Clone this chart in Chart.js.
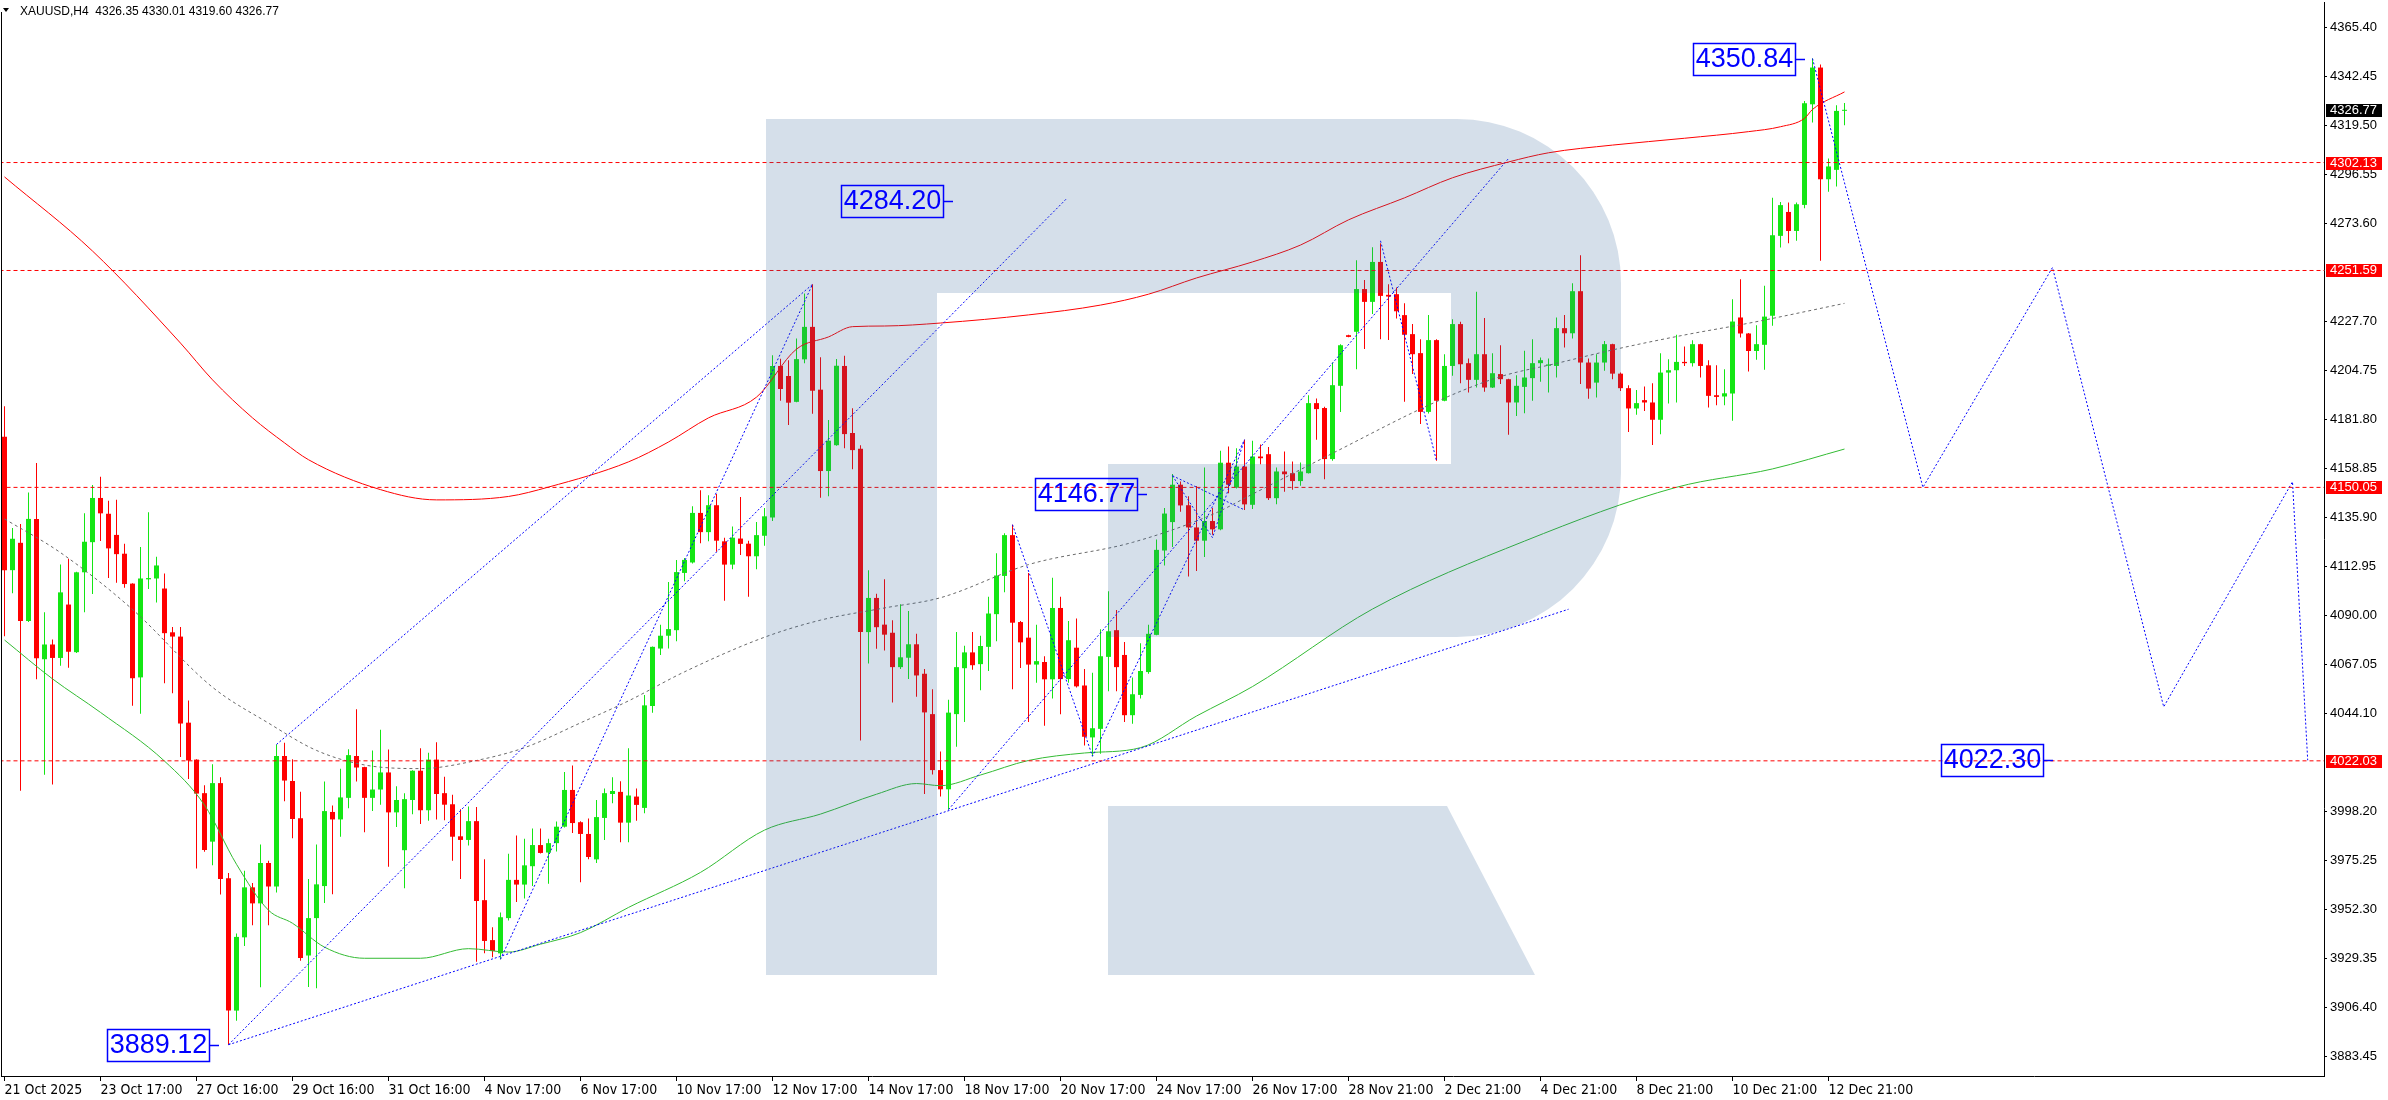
<!DOCTYPE html>
<html><head><meta charset="utf-8">
<script src="https://cdn.jsdelivr.net/npm/chart.js@4.4.1/dist/chart.umd.min.js"></script>
<style>html,body{margin:0;padding:0;background:#fff;overflow:hidden}canvas{display:block}</style>
</head><body>
<canvas id="c" width="2388" height="1100"></canvas>
<script>
// ---------- DATA ----------
const openArr = [4173.7,4111.3,4124.1,4087.5,4135.3,4069.6,4076.5,4070.2,4095.2,4072.9,
4110.3,4124.4,4145.1,4137.7,4127.8,4119.0,4105.0,4061.1,4107.0,4107.4,
4102.7,4082.2,4080.2,4039.9,4022.6,4006.9,3984.2,4011.6,3967.1,3905.1,
3939.4,3962.8,3955.3,3974.2,3963.2,4024.3,4012.6,3995.2,3930.9,3948.4,
3963.4,3998.1,3994.6,4004.7,4024.3,4019.1,4004.7,4008.6,4016.6,3997.9,
3980.2,4003.7,4017.4,3998.9,4022.6,4006.9,4001.7,3986.7,3985.0,3993.8,
3956.8,3938.1,3931.9,3948.4,3966.3,3964.1,3972.7,3982.6,3979.1,3983.5,
3991.2,4008.4,3993.3,3987.8,3975.9,3995.3,4006.5,4007.5,3993.1,4005.3,
4000.0,4047.7,4074.6,4080.6,4083.2,4110.0,4114.9,4138.1,4129.1,4141.7,
4124.8,4113.9,4126.1,4123.7,4117.8,4127.4,4136.0,4206.9,4202.2,4190.1,
4210.0,4225.2,4195.8,4157.7,4169.8,4206.9,4175.5,4168.1,4082.3,4098.3,
4085.8,4082.0,4065.9,4070.3,4076.6,4062.8,4043.9,4017.7,4008.7,4043.9,
4065.4,4072.8,4067.3,4075.4,4090.7,4108.6,4127.7,4087.0,4079.7,4067.1,
4068.3,4060.2,4093.6,4060.3,4075.0,4057.3,4033.0,4037.0,4070.7,4083.2,
4071.6,4043.4,4052.9,4063.6,4081.0,4120.5,4133.8,4151.3,4141.7,4131.3,
4125.1,4134.3,4130.4,4161.6,4149.9,4159.8,4141.9,4164.5,4165.6,4145.0,
4157.5,4156.7,4153.0,4156.7,4189.5,4187.2,4163.3,4197.6,4221.3,4222.9,
4242.9,4236.9,4255.6,4240.2,4240.5,4230.7,4221.8,4212.9,4185.4,4219.0,
4190.6,4206.9,4226.5,4208.2,4200.4,4212.4,4196.8,4203.1,4200.7,4189.8,
4197.1,4201.2,4208.2,4207.0,4206.9,4224.6,4222.2,4241.9,4208.5,4199.1,
4208.5,4217.1,4203.3,4196.5,4187.0,4190.9,4189.8,4181.7,4203.8,4204.9,
4208.8,4208.2,4217.1,4207.2,4193.2,4192.6,4194.0,4229.6,4222.1,4213.9,
4216.8,4230.4,4267.8,4279.0,4270.1,4282.3,4329.4,4346.6,4294.3,4298.7,
4326.35];
const highArr = [4188.0,4131.0,4132.9,4147.7,4161.5,4091.6,4078.8,4113.9,4116.6,4110.5,
4137.9,4151.2,4155.0,4143.8,4144.3,4123.7,4105.2,4122.1,4138.4,4117.6,
4109.7,4084.7,4084.7,4050.3,4022.8,4010.6,4020.4,4014.3,3969.5,3941.2,
3970.6,3964.8,3982.9,3975.2,4029.7,4030.5,4022.8,4007.6,3966.7,3982.9,
4012.3,4001.1,4018.3,4027.5,4046.2,4019.3,4026.9,4036.6,4027.3,4010.1,
4006.9,4017.6,4027.9,4025.8,4030.7,4014.6,4006.1,3999.4,4000.6,4000.4,
3975.9,3944.1,3951.0,3978.5,3987.1,3985.6,3990.3,3990.3,3985.6,3993.6,
4016.8,4019.8,3993.8,3995.0,4003.7,4009.1,4014.4,4012.5,4027.9,4009.1,
4052.9,4075.6,4085.8,4105.7,4116.1,4117.0,4141.2,4148.7,4146.4,4146.9,
4126.5,4131.7,4145.5,4125.1,4133.8,4140.4,4211.9,4210.3,4209.6,4219.7,
4240.8,4245.1,4211.0,4181.6,4210.1,4211.7,4187.1,4169.8,4111.3,4100.2,
4107.1,4087.9,4095.3,4092.2,4081.5,4065.0,4055.5,4026.4,4050.6,4082.3,
4075.9,4082.3,4080.6,4098.8,4119.2,4128.6,4132.6,4087.5,4110.0,4085.8,
4071.0,4107.8,4098.8,4087.5,4088.7,4065.0,4063.3,4083.6,4101.4,4092.7,
4077.7,4061.0,4077.1,4085.8,4125.6,4140.4,4156.3,4152.8,4145.9,4150.7,
4159.4,4140.4,4167.2,4169.2,4168.4,4172.4,4171.9,4170.1,4168.9,4159.4,
4166.9,4162.2,4161.7,4193.2,4191.7,4187.8,4208.5,4217.1,4221.5,4256.4,
4247.1,4262.5,4264.4,4245.2,4243.6,4236.3,4226.5,4219.4,4230.7,4219.4,
4212.4,4228.8,4227.6,4210.4,4241.6,4229.3,4212.9,4216.6,4200.9,4202.6,
4214.0,4219.4,4210.9,4210.4,4229.6,4230.7,4245.6,4258.7,4210.4,4212.4,
4218.6,4217.3,4203.8,4197.9,4195.7,4197.3,4198.8,4212.9,4210.0,4221.5,
4216.0,4218.9,4217.3,4209.6,4207.2,4205.4,4238.1,4247.5,4222.3,4226.0,
4244.4,4285.7,4283.7,4283.4,4283.4,4331.0,4350.84,4348.0,4304.0,4329.0,
4330.01];
const lowArr = [4080.4,4100.5,4008.0,4087.0,4060.2,4015.5,4011.0,4066.6,4065.6,4072.5,
4091.6,4100.1,4124.9,4107.6,4105.4,4103.1,4047.8,4044.1,4102.5,4096.2,
4058.4,4053.7,4023.8,4013.5,3971.6,3979.5,3973.2,3959.4,3889.12,3900.4,
3935.3,3945.1,3916.0,3945.1,3960.4,4003.1,3985.8,3928.4,3916.2,3915.6,
3955.5,3959.6,3986.5,3999.8,4012.3,3988.6,3998.5,4001.5,3972.5,3991.0,
3962.4,3997.0,3992.5,3994.0,3994.6,3994.2,3975.3,3966.7,3982.4,3928.0,
3931.9,3930.1,3929.1,3947.3,3955.9,3957.6,3963.4,3978.7,3964.5,3979.6,
3990.8,3988.2,3965.2,3975.9,3974.2,3985.0,4002.2,3983.9,3983.9,3994.0,
3997.5,4044.6,4071.6,4074.6,4078.0,4106.1,4114.4,4123.9,4124.8,4119.9,
4097.0,4111.7,4118.4,4098.8,4111.7,4122.7,4134.3,4190.6,4179.3,4189.9,
4208.2,4184.5,4145.2,4145.9,4169.6,4168.4,4158.5,4031.6,4067.6,4074.5,
4073.7,4049.4,4065.0,4060.3,4052.0,4006.5,4015.6,4005.3,3999.2,4028.6,
4040.2,4064.7,4055.1,4064.1,4078.0,4100.9,4055.5,4065.5,4040.2,4058.6,
4038.5,4051.2,4043.8,4058.6,4056.4,4029.2,4024.2,4025.3,4054.6,4054.6,
4040.2,4039.4,4051.2,4062.8,4080.8,4113.5,4122.2,4138.6,4108.3,4110.9,
4117.5,4127.9,4130.0,4147.3,4149.5,4139.5,4139.9,4160.9,4144.1,4142.2,
4148.0,4148.9,4150.8,4156.5,4172.3,4153.9,4162.5,4185.4,4220.3,4205.4,
4214.8,4231.2,4219.4,4219.1,4229.1,4190.1,4203.1,4179.7,4184.6,4162.5,
4190.4,4202.3,4198.8,4194.5,4196.8,4194.8,4196.6,4198.4,4174.7,4183.5,
4184.8,4190.6,4199.5,4194.5,4201.5,4215.5,4219.7,4198.4,4191.6,4192.1,
4204.6,4200.7,4195.2,4176.0,4184.0,4185.8,4169.9,4174.9,4189.3,4189.8,
4206.9,4206.6,4201.5,4187.4,4188.5,4188.5,4181.2,4220.2,4204.3,4209.8,
4205.1,4225.7,4262.3,4264.4,4265.5,4280.7,4320.9,4256.1,4288.4,4290.9,
4319.60];
const closeArr = [4111.3,4126.0,4087.5,4135.3,4070.0,4076.5,4070.2,4100.9,4073.1,4110.3,
4124.6,4145.1,4137.9,4121.5,4118.8,4104.8,4060.7,4107.4,4107.6,4113.5,
4081.8,4080.2,4039.5,4022.2,4006.7,3980.3,4011.6,3966.7,3905.1,3939.6,
3962.8,3955.3,3974.2,3963.2,4024.3,4012.8,3994.8,3929.7,3948.4,3964.2,
3998.5,3994.6,4004.9,4024.7,4018.9,4004.7,4008.6,4016.6,3997.9,4003.7,
4004.1,4017.4,3998.9,4022.6,4006.5,4001.5,3986.5,3985.0,3993.8,3956.4,
3937.7,3933.0,3948.8,3966.3,3964.1,3973.1,3982.6,3978.9,3983.5,3991.2,
4008.4,3992.9,3987.8,3977.0,3995.7,4006.9,4007.9,3993.1,4005.8,4001.4,
4048.0,4075.4,4080.6,4083.7,4110.4,4116.1,4138.1,4129.1,4141.7,4125.1,
4113.9,4126.5,4123.6,4117.8,4127.7,4136.5,4206.9,4196.1,4189.7,4210.1,
4225.2,4195.3,4157.7,4171.9,4207.0,4175.0,4167.5,4082.3,4098.3,4084.6,
4081.1,4065.9,4070.5,4076.6,4062.0,4044.7,4017.7,4008.7,4044.6,4065.9,
4072.8,4066.8,4075.8,4091.0,4108.8,4127.7,4086.7,4077.5,4067.1,4068.7,
4060.2,4093.6,4060.3,4078.5,4056.9,4033.3,4037.3,4071.0,4082.7,4065.9,
4043.4,4053.2,4064.1,4081.5,4120.8,4137.8,4151.3,4141.6,4131.3,4125.1,
4134.3,4130.4,4161.6,4151.3,4159.8,4142.1,4164.5,4163.7,4145.0,4157.5,
4156.2,4153.0,4157.5,4189.5,4186.7,4163.3,4197.9,4216.6,4220.5,4242.9,
4236.9,4255.6,4239.7,4239.4,4232.5,4221.5,4212.4,4185.4,4219.0,4190.6,
4206.9,4226.5,4207.7,4200.4,4212.4,4196.8,4203.5,4200.7,4189.8,4197.6,
4201.5,4208.2,4209.6,4207.6,4224.6,4222.2,4241.9,4208.5,4196.3,4208.5,
4217.1,4203.3,4196.5,4187.0,4189.5,4189.8,4181.7,4203.8,4204.9,4208.8,
4208.2,4217.1,4206.9,4192.9,4192.4,4194.1,4227.7,4222.1,4213.9,4217.1,
4230.0,4268.1,4282.2,4270.1,4282.6,4329.9,4346.6,4294.3,4300.3,4326.3,
4326.77];

// moving averages: bar index / value pairs
const slowMaIdx = [0,11,22,26,31,35,38,47,54,63,68,78,83,88,94,99,103,106,110,117,128,137,143,149,156,162,168,175,181,188,193,201,210,218,222,225,226,230];
const slowMaVal = [4295.4,4260.7,4217.6,4200.4,4182.6,4170.9,4163.0,4149.0,4144.2,4145.8,4150.2,4162.0,4171.3,4182.6,4192.3,4214.8,4220.5,4225.3,4225.6,4227.0,4230.8,4235.4,4240.5,4248.1,4255.6,4263.5,4275.3,4285.6,4295.0,4302.4,4306.7,4310.3,4313.5,4316.6,4318.9,4322.8,4327.0,4335.2];
const greenMaIdx = [0,6,12,20,25,29,33,36,40,45,52,58,63,67,72,78,87,95,102,109,114,117,122,128,135,142,149,156,171,190,209,221,230];
const greenMaVal = [4078.6,4060.4,4044.7,4021.9,4001.3,3973.6,3952.1,3946.0,3934.8,3929.6,3929.6,3934.1,3932.5,3936.2,3941.6,3953.4,3969.8,3989.6,3997.1,4006.4,4011.4,4010.4,4015.4,4022.2,4025.7,4028.2,4043.0,4056.8,4093.1,4124.9,4150.1,4158.7,4168.0];
const grayMaIdx = [0,7,16,26,33,39,45,52,59,65,72,78,85,95,102,110,117,128,141,151,156,166,179,187,194,201,210,218,230];
const grayMaVal = [4135.3,4119.5,4092.9,4056.5,4039.7,4026.9,4020.1,4018.4,4022.2,4028.2,4039.8,4050.1,4063.7,4079.9,4087.9,4093.6,4098.4,4113.9,4124.3,4137.4,4146.9,4166.0,4190.2,4201.9,4208.1,4214.4,4221.4,4226.9,4236.2];

// drawn analysis lines: [bar index, price]
const trendLow = [[28,3889.12],[195.5,4093.0]];
const trendB = [[28,3889.12],[132.7,4285.0]];
const trendA = [[34,4029.7],[101,4245.1]];
const trendC = [[62,3929.1],[101,4245.1]];
const trendF = [[118,3999.2],[188,4304.0]];
const wave1 = [[126,4132.6],[136,4024.2],[155,4172.4]];
const wave2 = [[146,4155.5],[151,4126.5],[155,4172.4]];
const wave2b = [[146,4155.5],[155,4139.5]];
const wave3 = [[172,4265.5],[179,4162.5]];
const forecastPath = [[226,4350.84],[239.8,4150.05],[256,4253.0],[269.9,4047.3],[286,4152.7],[287.9,4022.3]];

const levelValues = [4302.13, 4251.59, 4150.05, 4022.03];
const lastPrice = 4326.77;

const annoLabels = ['4350.84','4284.20','4146.77','4022.30','3889.12'];
const annoPrices = [4350.84, 4284.20, 4146.77, 4022.30, 3889.12];
const annoBars = [225.0, 118.6, 142.8, 256.0, 26.8];

const yTickValues = [3883.45,3906.40,3929.35,3952.30,3975.25,3998.20,4021.15,4044.10,4067.05,4090.00,4112.95,4135.90,4158.85,4181.80,4204.75,4227.70,4250.65,4273.60,4296.55,4319.50,4342.45,4365.40];
const xTickIdx = [0,12,24,36,48,60,72,84,96,108,120,132,144,156,168,180,192,204,216,228];
const xTickLabels = ['21 Oct 2025','23 Oct 17:00','27 Oct 16:00','29 Oct 16:00','31 Oct 16:00','4 Nov 17:00','6 Nov 17:00','10 Nov 17:00','12 Nov 17:00','14 Nov 17:00','18 Nov 17:00','20 Nov 17:00','24 Nov 17:00','26 Nov 17:00','28 Nov 21:00','2 Dec 21:00','4 Dec 21:00','8 Dec 21:00','10 Dec 21:00','12 Dec 21:00'];
const titleText = 'XAUUSD,H4  4326.35 4330.01 4319.60 4326.77';

// ---------- VIEW ----------
// target mapping: bar n centred at 4.5 + 8n px; price p at 27.4 + (4365.40 - p) * 2.136 px
const BAR_PX = 8, BAR0_PX = 4.5, PX_PER_UNIT = 2.136, REF_P = 4365.40, REF_Y = 27.4;
const UP = '#14e614', DOWN = '#ff0000';
const candleColors = closeArr.map((c,i)=> c >= openArr[i] ? UP : DOWN);
const wickData = lowArr.map((l,i)=>({x:i, y:[l, highArr[i]]}));
const bodyData = openArr.map((o,i)=>({x:i, y:[o, closeArr[i]]}));
const idxPts = (idx, val) => idx.map((x,i)=>({x, y:val[i]}));
const pairPts = arr => arr.map(p=>({x:p[0], y:p[1]}));

function dotted(arr){
  return {type:'line', data:pairPts(arr), borderColor:'#0000ff', borderWidth:1, borderDash:[2,2],
          pointRadius:0, fill:false, tension:0, order:0};
}
function maLine(idx,val,color,dash){
  return {type:'line', data:idxPts(idx,val), borderColor:color, borderWidth:1, borderDash:dash||[],
          pointRadius:0, fill:false, cubicInterpolationMode:'monotone', order:1};
}

const datasets = [
  {type:'bar', data:wickData, backgroundColor:candleColors, barThickness:1, grouped:false, inflateAmount:0, borderWidth:0, order:3},
  {type:'bar', data:bodyData, backgroundColor:candleColors, barThickness:5, minBarLength:1, grouped:false, inflateAmount:0, borderWidth:0, order:2},
  maLine(slowMaIdx, slowMaVal, '#ff0000'),
  maLine(greenMaIdx, greenMaVal, '#33bb33'),
  maLine(grayMaIdx, grayMaVal, '#6a6a6a', [3,3]),
];
levelValues.forEach(v=>{
  datasets.push({type:'line', data:[{x:-5,y:v},{x:300,y:v}], borderColor:'#ff0000', borderWidth:1,
    borderDash:[4,3], pointRadius:0, fill:false, order:0});
});
[trendLow,trendB,trendA,trendC,trendF,wave1,wave2,wave2b,wave3,forecastPath].forEach(a=>datasets.push(dotted(a)));

const mt4Plugin = {
  id:'mt4',
  afterDatasetsDraw(chart){
    const ctx = chart.ctx, a = chart.chartArea;
    ctx.save();
    ctx.beginPath(); ctx.rect(a.left, a.top, a.right-a.left, a.bottom-a.top); ctx.clip();
    ctx.fillStyle = 'rgba(45,95,150,0.2)';
    ctx.beginPath();
    ctx.moveTo(766,119); ctx.lineTo(1457,119);
    ctx.arcTo(1621,119,1621,283,164); ctx.lineTo(1621,473);
    ctx.arcTo(1621,637,1457,637,164); ctx.lineTo(1108,637);
    ctx.lineTo(1108,464); ctx.lineTo(1451,464); ctx.lineTo(1451,293);
    ctx.lineTo(937,293); ctx.lineTo(937,975); ctx.lineTo(766,975); ctx.closePath();
    ctx.moveTo(1108,806); ctx.lineTo(1447,806); ctx.lineTo(1535,975); ctx.lineTo(1108,975); ctx.closePath();
    ctx.fill();
    ctx.restore();
  },
  afterDraw(chart){
    const ctx = chart.ctx, xs = chart.scales.x, ys = chart.scales.y, a = chart.chartArea;
    ctx.save();
    ctx.fillStyle = '#000';
    ctx.fillRect(1, 12, 1, a.bottom-12);
    ctx.font = "13px 'Liberation Sans', Arial, sans-serif";
    ctx.textBaseline = 'middle'; ctx.textAlign = 'left';
    const tag = (v, bg) => {
      const y = Math.round(ys.getPixelForValue(v));
      ctx.fillStyle = bg; ctx.fillRect(a.right+2, y-6, 56, 13);
      ctx.fillStyle = '#fff'; ctx.fillText(v.toFixed(2), a.right+6, y+0.5);
    };
    levelValues.forEach(v=>tag(v,'#ff0000'));
    tag(lastPrice,'#000000');
    ctx.font = "27px 'Liberation Sans', Arial, sans-serif";
    ctx.textAlign = 'center';
    annoLabels.forEach((t,i)=>{
      const y = Math.round(ys.getPixelForValue(annoPrices[i]));
      const xe = Math.round(xs.getPixelForValue(annoBars[i]));
      const xr = xe - 10;
      const w = Math.ceil(ctx.measureText(t).width) + 4;
      ctx.strokeStyle = '#0000ff'; ctx.lineWidth = 1.5;
      ctx.strokeRect(xr - w + 0.5, y - 16 + 0.5, w, 32);
      ctx.beginPath(); ctx.moveTo(xr, y + 0.5); ctx.lineTo(xe, y + 0.5); ctx.stroke();
      ctx.fillStyle = '#0000ff';
      ctx.fillText(t, xr - w/2 + 0.5, y + 1);
    });
    ctx.fillStyle = '#000';
    ctx.beginPath(); ctx.moveTo(3,8); ctx.lineTo(9,8); ctx.lineTo(6,12); ctx.closePath(); ctx.fill();
    ctx.font = "12px 'Liberation Sans', Arial, sans-serif";
    ctx.textAlign = 'left'; ctx.textBaseline = 'middle';
    ctx.fillText(titleText, 20, 11.5);
    ctx.restore();
  }
};

const noPad = s => { s.paddingTop = 0; s.paddingBottom = 0; s.paddingLeft = 0; s.paddingRight = 0; };

const chart = new Chart(document.getElementById('c'), {
  type:'bar',
  data:{datasets},
  plugins:[mt4Plugin],
  options:{
    responsive:false, animation:false, devicePixelRatio:1,
    layout:{padding:{left:1, top:2, right:0, bottom:0}},
    plugins:{legend:{display:false}, tooltip:{enabled:false}},
    scales:{
      x:{type:'linear', min:-0.4375, max:289.9375, offset:false,
         afterBuildTicks: s => { s.ticks = xTickIdx.map(v=>({value:v})); },
         afterFit: s => { s.height = 24; noPad(s); },
         grid:{display:true, drawOnChartArea:false, drawTicks:true, tickLength:5, color:'#000', offset:false},
         border:{display:true, color:'#000', width:1},
         ticks:{autoSkip:false, maxRotation:0, minRotation:0, align:'start', padding:1, color:'#000',
                font:{family:"'Liberation Sans Narrow','DejaVu Sans Condensed','Liberation Sans',sans-serif", size:14},
                callback: v => { const k = xTickIdx.indexOf(v); return k >= 0 ? xTickLabels[k] : ''; }}},
      y:{type:'linear', position:'right', min:3874.48, max:4377.29,
         afterBuildTicks: s => { s.ticks = yTickValues.filter(v => !levelValues.some(l => Math.abs(l - v) < 2)).map(v=>({value:v})); },
         afterFit: s => { s.width = 64; noPad(s); },
         grid:{display:true, drawOnChartArea:false, drawTicks:true, tickLength:3, color:'#000'},
         border:{display:true, color:'#000', width:1},
         ticks:{autoSkip:false, padding:3, color:'#000',
                font:{family:"'Liberation Sans',Arial,sans-serif", size:13},
                callback: v => Number(v).toFixed(2)}}
    }
  }
});
// calibrate the axis ranges to the actual plot area so the pixel mapping matches the reference
(function calibrate(){
  const a = chart.chartArea;
  chart.options.scales.x.min = (a.left - BAR0_PX) / BAR_PX;
  chart.options.scales.x.max = (a.right - BAR0_PX) / BAR_PX;
  chart.options.scales.y.max = REF_P - (a.top - REF_Y) / PX_PER_UNIT;
  chart.options.scales.y.min = REF_P - (a.bottom - REF_Y) / PX_PER_UNIT;
  chart.update('none');
})();
</script>
</body></html>
